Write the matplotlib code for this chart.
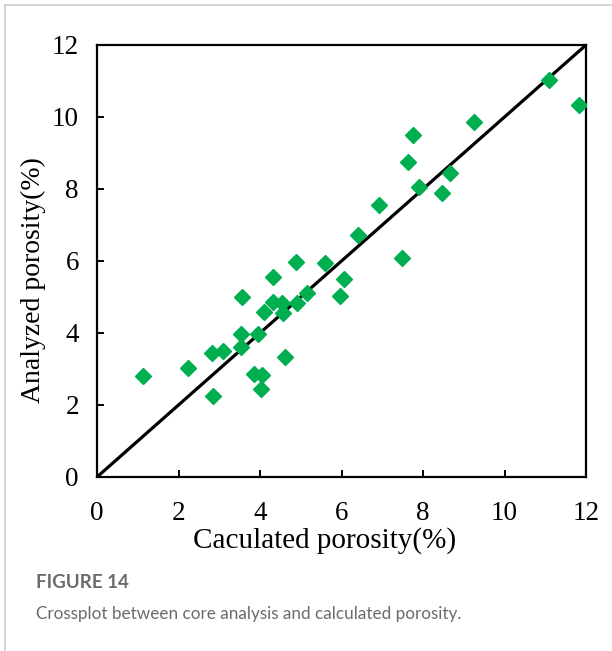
import matplotlib
matplotlib.use("Agg")
import matplotlib.pyplot as plt
from matplotlib.lines import Line2D

# calculated vs core-analysed porosity (%)
calc_por = [1.14, 2.24, 2.85, 2.81, 3.08, 3.55, 3.53, 3.53, 3.96, 3.86,
            4.04, 4.02, 4.10, 4.31, 4.33, 4.53, 4.56, 4.61, 4.88, 4.90,
            5.15, 5.60, 6.06, 5.96, 6.40, 6.92, 7.48, 7.62, 7.75, 7.91,
            8.46, 8.66, 9.25, 11.10, 11.84]
core_por = [2.81, 3.02, 2.25, 3.45, 3.50, 5.01, 3.96, 3.62, 3.96, 2.86,
            2.83, 2.44, 4.59, 4.87, 5.56, 4.82, 4.56, 3.34, 5.98, 4.84,
            5.12, 5.95, 5.50, 5.03, 6.72, 7.56, 6.07, 8.74, 9.50, 8.06,
            7.90, 8.45, 9.85, 11.03, 10.33]
ref_line = [0, 12]
ticks = [0, 2, 4, 6, 8, 10, 12]

W, H = 612, 651
fig = plt.figure(figsize=(W / 100, H / 100), dpi=100)

# card border (left and top)
fig.add_artist(Line2D([4.5 / W, 4.5 / W], [0, 1 - 5 / H], color="#cccccc", lw=1.2))
fig.add_artist(Line2D([4.5 / W, 1], [1 - 5 / H, 1 - 5 / H], color="#cccccc", lw=1.2))

ax = fig.add_axes([97 / W, (H - 477) / H, 489 / W, 432 / H])
ax.plot(ref_line, ref_line, color="black", lw=2.3, zorder=2, solid_capstyle="butt")
ax.plot(calc_por, core_por, linestyle="none", marker="D", ms=7.8,
        color="#00b050", mec="#00b050", zorder=3)

ax.set_xlim(0, 12)
ax.set_ylim(0, 12)
ax.set_xticks(ticks)
ax.set_yticks(ticks)
for s in ax.spines.values():
    s.set_linewidth(1.6)
ax.tick_params(direction="in", length=5, width=1.4, labelsize=19.5,
               top=False, right=False)
ax.tick_params(axis="x", pad=17)
ax.tick_params(axis="y", pad=13)
for lab in ax.get_xticklabels() + ax.get_yticklabels():
    lab.set_fontfamily("Liberation Serif")

ax.set_xlabel("Caculated porosity(%)", fontfamily="Liberation Serif", fontsize=21)
ax.set_ylabel("Analyzed porosity(%)", fontfamily="Liberation Serif", fontsize=20)
ax.xaxis.set_label_coords(0.466, -0.115)
ax.yaxis.set_label_coords(-0.104, 0.456)

fig.text(36 / W, 1 - 583 / H, "FIGURE 14", fontfamily="Lato", fontsize=13.5,
         fontweight="bold", color="#6b6b6b", va="center", ha="left")
fig.text(36 / W, 1 - 614 / H, "Crossplot between core analysis and calculated porosity.",
         fontfamily="Lato", fontsize=12.3, color="#6b6b6b", va="center", ha="left")

fig.savefig("out.png", dpi=100)
